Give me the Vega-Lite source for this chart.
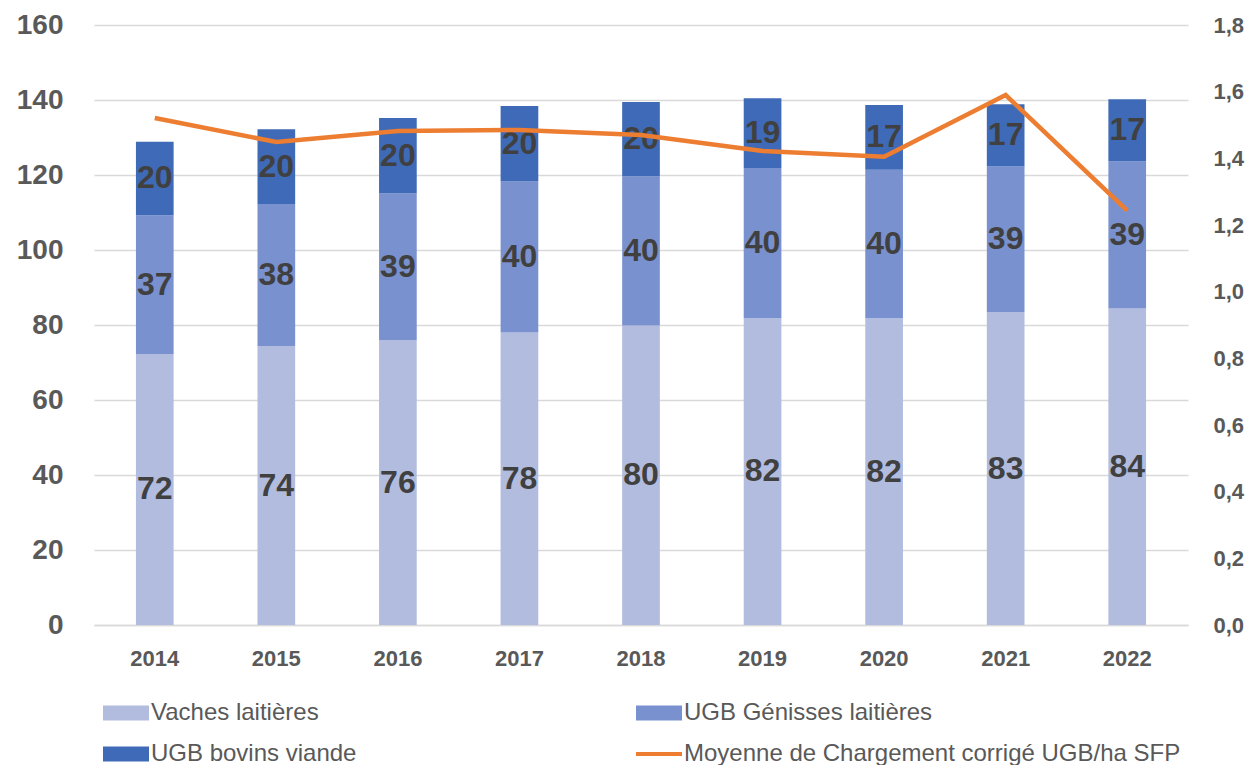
{
  "$schema": "https://vega.github.io/schema/vega-lite/v6.json",
  "width": 1094,
  "height": 600,
  "autosize": {"type": "none"},
  "padding": {"left": 94, "top": 25, "right": 60, "bottom": 140},
  "background": "white",
  "config": {"view": {"stroke": null}, "font": "Liberation Sans"},
  "datasets": {
    "bars": [
      {"year": "2014", "series": "Vaches laitières", "value": 72.3},
      {"year": "2014", "series": "UGB Génisses laitières", "value": 37.0},
      {"year": "2014", "series": "UGB bovins viande", "value": 19.6},
      {"year": "2015", "series": "Vaches laitières", "value": 74.4},
      {"year": "2015", "series": "UGB Génisses laitières", "value": 37.9},
      {"year": "2015", "series": "UGB bovins viande", "value": 19.9},
      {"year": "2016", "series": "Vaches laitières", "value": 76.0},
      {"year": "2016", "series": "UGB Génisses laitières", "value": 39.1},
      {"year": "2016", "series": "UGB bovins viande", "value": 20.1},
      {"year": "2017", "series": "Vaches laitières", "value": 78.0},
      {"year": "2017", "series": "UGB Génisses laitières", "value": 40.3},
      {"year": "2017", "series": "UGB bovins viande", "value": 20.1},
      {"year": "2018", "series": "Vaches laitières", "value": 79.9},
      {"year": "2018", "series": "UGB Génisses laitières", "value": 39.8},
      {"year": "2018", "series": "UGB bovins viande", "value": 19.8},
      {"year": "2019", "series": "Vaches laitières", "value": 81.9},
      {"year": "2019", "series": "UGB Génisses laitières", "value": 40.0},
      {"year": "2019", "series": "UGB bovins viande", "value": 18.6},
      {"year": "2020", "series": "Vaches laitières", "value": 81.8},
      {"year": "2020", "series": "UGB Génisses laitières", "value": 39.6},
      {"year": "2020", "series": "UGB bovins viande", "value": 17.3},
      {"year": "2021", "series": "Vaches laitières", "value": 83.4},
      {"year": "2021", "series": "UGB Génisses laitières", "value": 38.9},
      {"year": "2021", "series": "UGB bovins viande", "value": 16.6},
      {"year": "2022", "series": "Vaches laitières", "value": 84.4},
      {"year": "2022", "series": "UGB Génisses laitières", "value": 39.2},
      {"year": "2022", "series": "UGB bovins viande", "value": 16.6}
    ],
    "line": [
      {"year": "2014", "charge": 1.521},
      {"year": "2015", "charge": 1.449},
      {"year": "2016", "charge": 1.482},
      {"year": "2017", "charge": 1.485},
      {"year": "2018", "charge": 1.470},
      {"year": "2019", "charge": 1.422},
      {"year": "2020", "charge": 1.405},
      {"year": "2021", "charge": 1.590},
      {"year": "2022", "charge": 1.243}
    ]
  },
  "layer": [
    {
      "data": {"name": "bars"},
      "transform": [
        {"calculate": "indexof(['Vaches laitières','UGB Génisses laitières','UGB bovins viande'], datum.series)", "as": "o"},
        {"stack": "value", "groupby": ["year"], "sort": [{"field": "o", "order": "ascending"}], "as": ["v0", "v1"]},
        {"calculate": "(datum.v0 + datum.v1) / 2", "as": "mid"}
      ],
      "layer": [
        {
          "mark": {"type": "bar"},
          "encoding": {
            "x": {
              "field": "year", "type": "ordinal",
              "scale": {"paddingInner": 0.69, "paddingOuter": 0.345},
              "axis": {"title": null, "labelAngle": 0, "labelFontSize": 22, "labelFontWeight": "bold", "labelColor": "#595959", "labelPadding": 23, "ticks": false, "domain": true, "domainColor": "#d9d9d9", "domainWidth": 1.5}
            },
            "y": {
              "field": "v1", "type": "quantitative",
              "scale": {"domain": [0, 160], "nice": false},
              "axis": {"title": null, "values": [0, 20, 40, 60, 80, 100, 120, 140, 160], "labelFontSize": 28, "labelFontWeight": "bold", "labelColor": "#595959", "labelPadding": 31, "ticks": false, "domain": false, "grid": true, "gridColor": "#d9d9d9", "gridWidth": 1.5}
            },
            "y2": {"field": "v0"},
            "color": {
              "field": "series", "type": "nominal",
              "scale": {
                "domain": ["Vaches laitières", "UGB Génisses laitières", "UGB bovins viande", "Moyenne de Chargement corrigé UGB/ha SFP"],
                "range": ["#B2BCDF", "#7A91CF", "#3F6AB7", "#ED7D31"]
              },
              "legend": {
                "title": null, "orient": "none", "legendX": 20, "legendY": 676, "columns": 2, "direction": "horizontal", "columnPadding": 279,
                "rowPadding": 17, "labelFontSize": 24, "labelColor": "#595959", "labelFont": "Liberation Sans", "labelLimit": 0,
                "symbolSize": 400, "labelOffset": 13, "symbolOffset": 0,
                "encode": {
                  "symbols": {
                    "update": {
                      "shape": {"signal": "datum.value == 'Moyenne de Chargement corrigé UGB/ha SFP' ? 'M-2.3,-0.2L2.3,-0.2L2.3,0.2L-2.3,0.2Z' : 'M-2.3,-0.75L2.3,-0.75L2.3,0.75L-2.3,0.75Z'"},
                      "fill": {"scale": "color", "field": "value"},
                      "fillOpacity": {"value": 1},
                      "stroke": {"value": "transparent"},
                      "strokeWidth": {"value": 0}
                    }
                  }
                }
              }
            }
          }
        },
        {
          "mark": {"type": "text", "fontSize": 32, "fontWeight": "bold", "color": "#404040", "align": "center", "baseline": "middle"},
          "encoding": {
            "x": {"field": "year", "type": "ordinal"},
            "y": {"field": "mid", "type": "quantitative"},
            "text": {"field": "value", "type": "quantitative", "format": ".0f"}
          }
        }
      ]
    },
    {
      "data": {"name": "line"},
      "mark": {"type": "line", "strokeWidth": 4.5},
      "encoding": {
        "x": {"field": "year", "type": "ordinal"},
        "y": {
          "field": "charge", "type": "quantitative",
          "scale": {"domain": [0, 1.8], "nice": false},
          "axis": {"orient": "right", "title": null, "values": [0, 0.2, 0.4, 0.6, 0.8, 1.0, 1.2, 1.4, 1.6, 1.8], "labelExpr": "replace(format(datum.value, '.1f'), '.', ',')", "labelFontSize": 22, "labelFontWeight": "bold", "labelColor": "#595959", "labelPadding": 25, "ticks": false, "domain": false, "grid": false}
        },
        "color": {"datum": "Moyenne de Chargement corrigé UGB/ha SFP"}
      }
    }
  ],
  "resolve": {"scale": {"y": "independent"}}
}
